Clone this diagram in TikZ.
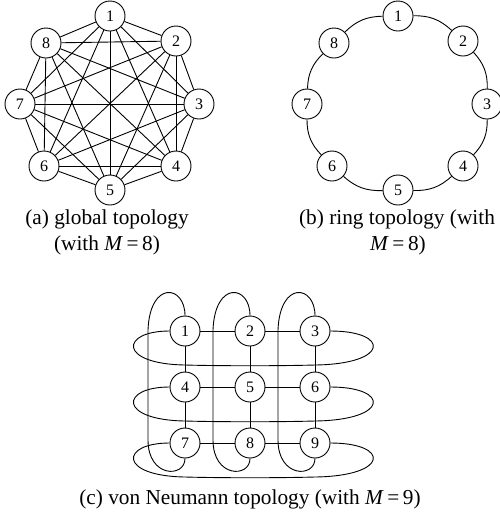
\documentclass[tikz,border=0pt]{standalone}
\usepackage{fontspec}
\setmainfont{Liberation Serif}
\begin{document}
\begin{tikzpicture}[x=1pt,y=1pt,
  vtx/.style={circle,draw,line width=0.9pt,fill=white,minimum size=30pt,inner sep=0pt,font=\fontsize{16}{16}\selectfont},
  edge/.style={line width=0.9pt},
  captext/.style={font=\fontsize{21.3}{24}\selectfont,inner sep=0pt}]
\useasboundingbox (0,0) rectangle (500,-520);
% (a) global topology
\node[vtx] (a1) at (110,-16) {1};
\node[vtx] (a2) at (176,-41) {2};
\node[vtx] (a3) at (199,-104) {3};
\node[vtx] (a4) at (176,-166) {4};
\node[vtx] (a5) at (110,-190) {5};
\node[vtx] (a6) at (44,-166) {6};
\node[vtx] (a7) at (20,-104) {7};
\node[vtx] (a8) at (46,-43) {8};
\foreach \i in {1,...,8}{
  \foreach \j in {1,...,8}{
    \ifnum\i<\j \draw[edge] (a\i) -- (a\j); \fi
  }
}
\node[captext] (capa1) at (107,-219) {(a) global topology};
\node[captext] (capa2) at (107,-245) {(with \textit{M}\,=\,8)};
% (b) ring topology
\node[vtx] (b1) at (398,-16) {1};
\node[vtx] (b2) at (463,-41) {2};
\node[vtx] (b3) at (487,-104) {3};
\node[vtx] (b4) at (463,-166) {4};
\node[vtx] (b5) at (398,-190) {5};
\node[vtx] (b6) at (332,-166) {6};
\node[vtx] (b7) at (307,-104) {7};
\node[vtx] (b8) at (334,-43) {8};
\foreach \i/\j in {1/2,2/3,3/4,4/5,5/6,6/7,7/8,8/1}{
  \draw[edge] (b\i) to[bend left=22] (b\j);
}
\node[captext] (capb1) at (397,-219) {(b) ring topology (with};
\node[captext] (capb2) at (398,-245) {\textit{M}\,=\,8)};
% (c) von Neumann topology
\foreach \n/\x/\y in {1/185/331,2/250/331,3/315/331,4/185/387,5/250/387,6/315/387,7/185/443,8/250/443,9/315/443}{
  \node[vtx] (c\n) at (\x,-\y) {\n};
}
\foreach \i/\j in {1/2,2/3,4/5,5/6,7/8,8/9,1/4,4/7,2/5,5/8,3/6,6/9}{
  \draw[edge] (c\i) -- (c\j);
}
% horizontal wrap-around
\foreach \l/\r/\y in {1/3/331,4/6/387,7/9/443}{
  \draw[edge] (c\l.west) .. controls (120,-\y) and (118,-\y-33) .. (185,-\y-34)
     .. controls (220,-\y-35) and (280,-\y-35) .. (315,-\y-34)
     .. controls (390,-\y-33) and (390,-\y) .. (c\r.east);
}
% vertical wrap-around
\foreach \t/\b/\x in {1/7/185,2/8/250,3/9/315}{
  \draw[edge] (c\t.north) .. controls (\x,-285) and (\x-35,-280) .. (\x-37,-330)
     -- (\x-37,-440) .. controls (\x-37,-478) and (\x,-478) .. (c\b.south);
}
\node[captext] (capc) at (250,-499) {(c) von Neumann topology (with \textit{M}\,=\,9)};
\end{tikzpicture}
\end{document}
